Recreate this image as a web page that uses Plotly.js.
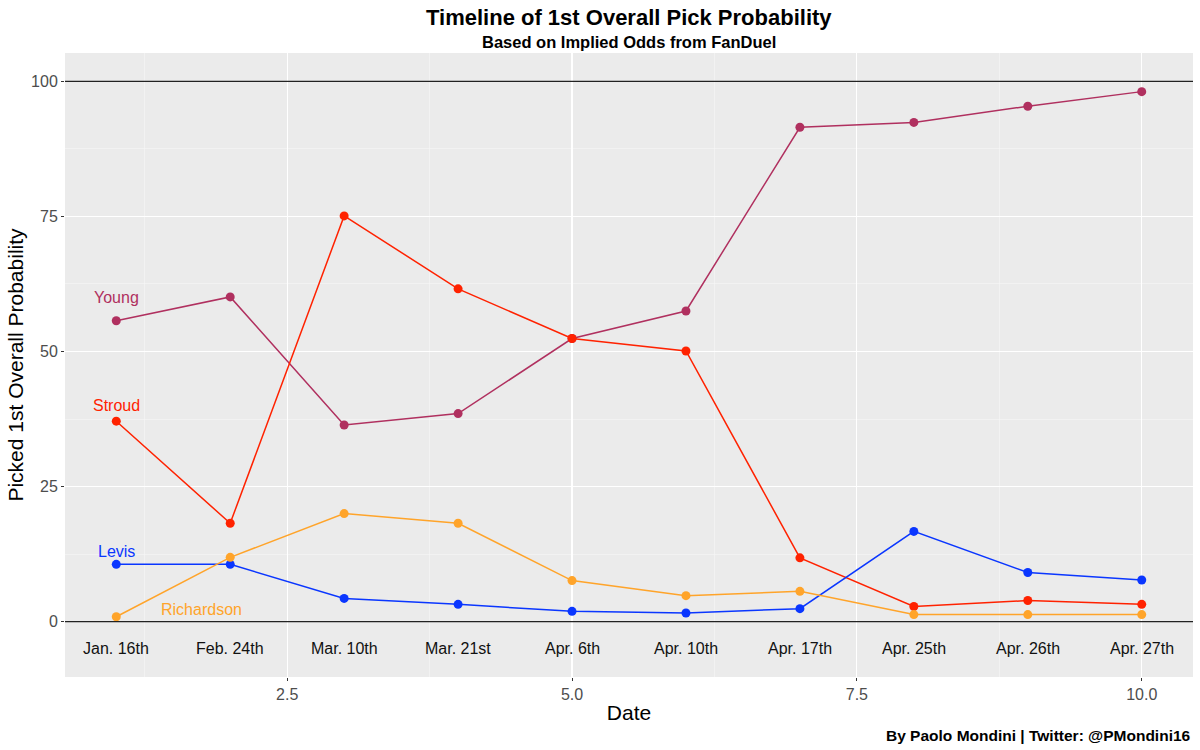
<!DOCTYPE html>
<html>
<head>
<meta charset="utf-8">
<script src="https://cdn.plot.ly/plotly-3.0.1.min.js"></script>
<style>html,body{margin:0;padding:0;background:#fff;}#chart{width:1200px;height:750px;}</style>
</head>
<body>
<div id="chart"></div>
<script>
// ---- data ----
const xIndex = [1, 2, 3, 4, 5, 6, 7, 8, 9, 10];
const dateLabels = ["Jan. 16th", "Feb. 24th", "Mar. 10th", "Mar. 21st", "Apr. 6th",
                    "Apr. 10th", "Apr. 17th", "Apr. 25th", "Apr. 26th", "Apr. 27th"];
const dateLabelY = -5;
const players = ["Young", "Stroud", "Levis", "Richardson"];
const young      = [55.7, 60.1, 36.4, 38.5, 52.4, 57.5, 91.5, 92.4, 95.4, 98.1];
const stroud     = [37.1, 18.2, 75.1, 61.6, 52.4, 50.1, 11.8, 2.8, 3.9, 3.2];
const levis      = [10.6, 10.6, 4.3, 3.2, 1.9, 1.6, 2.4, 16.7, 9.1, 7.7];
const richardson = [0.9, 11.9, 20.0, 18.2, 7.6, 4.8, 5.6, 1.3, 1.3, 1.3];
const labelX = [1, 1, 1, 1.75];
const labelY = [60, 40, 13, 2.3];
const refLines = [0, 100];
const playerColors = ["#b0305f", "#ff2200", "#0a36ff", "#ffa42a"];

const series = [young, stroud, levis, richardson];
const FONT = "Liberation Sans, Arial, sans-serif";

const traces = players.map((name, i) => ({
  type: "scatter",
  mode: "lines+markers",
  name: name,
  x: xIndex,
  y: series[i],
  line: {color: playerColors[i], width: 1.5},
  marker: {color: playerColors[i], size: 9},
  hoverinfo: "skip",
  showlegend: false
}));

const annotations = [];
dateLabels.forEach((t, i) => {
  annotations.push({x: xIndex[i], y: dateLabelY, xref: "x", yref: "y", text: t,
    showarrow: false, font: {family: FONT, size: 16, color: "#111"}});
});
players.forEach((p, i) => {
  annotations.push({x: labelX[i], y: labelY[i], xref: "x", yref: "y", text: p,
    showarrow: false, font: {family: FONT, size: 16, color: playerColors[i]}});
});
annotations.push({x: 0.5, y: 1, xref: "paper", yref: "paper", yanchor: "middle", yshift: 11,
  text: "<b>Based on Implied Odds from FanDuel</b>", showarrow: false,
  font: {family: FONT, size: 16.5, color: "#000"}});
annotations.push({x: 1, y: 0, xref: "paper", yref: "paper", xanchor: "right", yanchor: "middle", yshift: -58, xshift: 0,
  text: "<b>By Paolo Mondini | Twitter: @PMondini16</b>", showarrow: false,
  font: {family: FONT, size: 15.5, color: "#000"}});

const shapes = refLines.map(v => ({
  type: "line", xref: "paper", x0: 0, x1: 1, yref: "y", y0: v, y1: v,
  line: {color: "#222", width: 1.3}, layer: "above"
}));

const layout = {
  width: 1200, height: 750,
  margin: {l: 65, r: 7, t: 53, b: 73},
  paper_bgcolor: "#ffffff",
  plot_bgcolor: "#ebebeb",
  font: {family: FONT},
  title: {text: "<b>Timeline of 1st Overall Pick Probability</b>", x: 0.524, xanchor: "center",
          y: 0.977, yanchor: "middle", font: {size: 22, color: "#000"}},
  xaxis: {
    range: [0.55, 10.45], tick0: 0, dtick: 2.5, tickformat: ".1f",
    showgrid: true, gridcolor: "#ffffff", gridwidth: 1.2,
    minor: {dtick: 1.25, tick0: 0, showgrid: true, gridcolor: "#f7f7f7", gridwidth: 0.6},
    zeroline: false, showline: false,
    ticks: "outside", ticklen: 3, tickcolor: "#333", tickwidth: 1,
    tickfont: {size: 16, color: "#4d4d4d"},
    title: {text: "Date", font: {size: 21, color: "#000"}, standoff: 3}
  },
  yaxis: {
    range: [-10.25, 105.25], tick0: 0, dtick: 25,
    showgrid: true, gridcolor: "#ffffff", gridwidth: 1.2,
    minor: {dtick: 12.5, tick0: 0, showgrid: true, gridcolor: "#f7f7f7", gridwidth: 0.6},
    zeroline: false, showline: false,
    ticks: "outside", ticklen: 3, tickcolor: "#333", tickwidth: 1,
    tickfont: {size: 16, color: "#4d4d4d"},
    title: {text: "Picked 1st Overall Probability", font: {size: 21, color: "#000"}, standoff: 1}
  },
  annotations: annotations,
  shapes: shapes,
  showlegend: false
};

Plotly.newPlot("chart", traces, layout, {displayModeBar: false, staticPlot: true});
</script>
</body>
</html>
